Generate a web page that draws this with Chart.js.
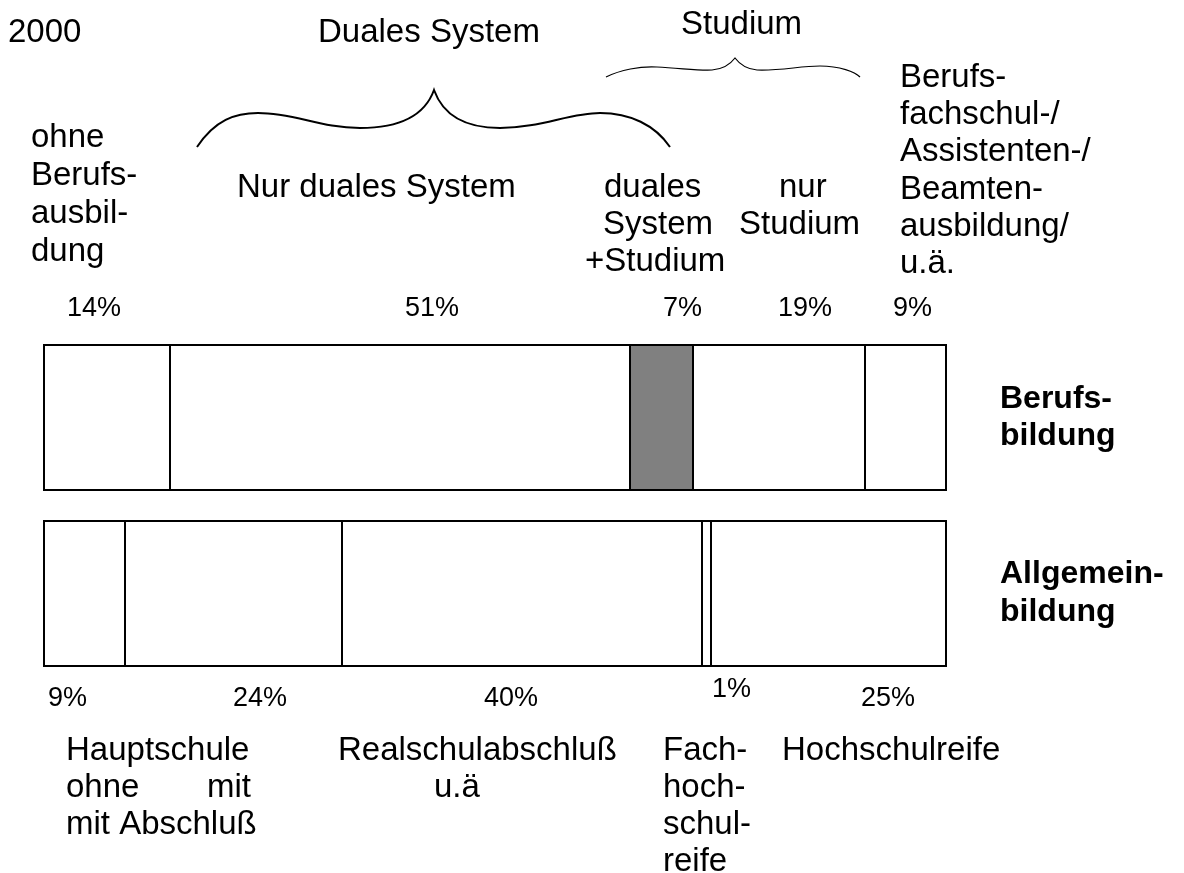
<!DOCTYPE html>
<html lang="de">
<head>
<meta charset="utf-8">
<title>Berufsbildung und Allgemeinbildung 2000</title>
<script src="https://cdn.jsdelivr.net/npm/chart.js"></script>
<style>
    html, body { margin: 0; padding: 0; background: #fff; }
    canvas { display: block; }
</style>
</head>
<body>
<canvas id="bildung-chart" width="1184" height="873"></canvas>
<script>
// Data
const year = '2000';
const rows = [['Berufs-', 'bildung'], ['Allgemein-', 'bildung']];
const berufsbildung = [14, 51, 7, 19, 9];
const allgemeinbildung = [9, 24, 40, 1, 25];
const berufsSegments = ['ohne Berufsausbildung', 'Nur duales System', 'duales System +Studium', 'nur Studium', 'Berufsfachschul-/Assistenten-/Beamtenausbildung/u.ä.'];
const allgemeinSegments = ['Hauptschule ohne Abschluß', 'Hauptschule mit Abschluß', 'Realschulabschluß u.ä', 'Fachhochschulreife', 'Hochschulreife'];

// Styles
const fills = [['#fff', '#fff'], ['#fff', '#fff'], ['#808080', '#fff'], ['#fff', '#fff'], ['#fff', '#fff']];
const font = '"Liberation Sans", Arial, sans-serif';
const topPctX = [67, 405, 663, 778, 893];
const bottomPctX = [48, 233, 484, 712, 861];

// Text blocks around the bars: [text, x, baseline, align]
const notes = [
    [year, 8, 42],
    ['Duales System', 318, 42],
    ['Studium', 681, 34],
    ['ohne', 31, 147], ['Berufs-', 31, 185], ['ausbil-', 31, 223], ['dung', 31, 261],
    ['Nur duales System', 237, 197],
    ['duales', 604, 197], ['nur', 779, 197],
    ['System', 603, 234], ['Studium', 739, 234],
    ['+Studium', 585, 271],
    ['Berufs-', 900, 87], ['fachschul-/', 900, 124], ['Assistenten-/', 900, 161],
    ['Beamten-', 900, 199], ['ausbildung/', 900, 236], ['u.ä.', 900, 273],
    ['Hauptschule', 66, 760], ['ohne', 66, 797], ['mit', 251, 797, 'right'], ['mit Abschluß', 66, 834],
    ['Realschulabschluß', 338, 760], ['u.ä', 434, 797],
    ['Fach-', 663, 760], ['hoch-', 663, 797], ['schul-', 663, 834], ['reife', 663, 871],
    ['Hochschulreife', 782, 760]
];

function brace(ctx, start, curves, width) {
    ctx.lineWidth = width;
    ctx.beginPath();
    ctx.moveTo(start[0], start[1]);
    curves.forEach(c => ctx.bezierCurveTo(c[0], c[1], c[2], c[3], c[4], c[5]));
    ctx.stroke();
}

const annotations = {
    id: 'annotations',
    afterDatasetsDraw(chart) {
        const ctx = chart.ctx;
        const xScale = chart.scales.x;
        const left = xScale.getPixelForValue(0);
        const right = xScale.getPixelForValue(100);

        ctx.save();
        ctx.strokeStyle = '#000';
        ctx.lineWidth = 2;

        // dividers at the start of every segment after the first
        chart.data.datasets.forEach((ds, i) => {
            if (i === 0) return;
            chart.getDatasetMeta(i).data.forEach(bar => {
                const { base, y, height } = bar.getProps(['base', 'y', 'height'], true);
                const x = Math.round(base);
                ctx.beginPath();
                ctx.moveTo(x, y - height / 2);
                ctx.lineTo(x, y + height / 2);
                ctx.stroke();
            });
        });

        // outline of each bar
        chart.getDatasetMeta(0).data.forEach(bar => {
            const { y, height } = bar.getProps(['y', 'height'], true);
            ctx.strokeRect(Math.round(left), Math.round(y - height / 2), Math.round(right - left), Math.round(height));
        });
        ctx.restore();
    },
    afterDraw(chart) {
        const ctx = chart.ctx;
        ctx.save();
        ctx.strokeStyle = '#000';
        ctx.fillStyle = '#000';

        // braces
        brace(ctx, [197, 147], [
            [215, 120, 235, 113, 258, 113],
            [295, 113, 320, 128, 360, 128],
            [400, 128, 425, 115, 434, 90],
            [443, 115, 465, 128, 500, 128],
            [540, 128, 570, 113, 600, 113],
            [630, 113, 655, 125, 670, 147]
        ], 2);
        brace(ctx, [606, 77], [
            [620, 70, 640, 66, 657, 67],
            [680, 68, 700, 71, 712, 70],
            [725, 69, 732, 62, 735, 58],
            [738, 62, 745, 69, 757, 70],
            [780, 71, 800, 66, 820, 66],
            [840, 66, 855, 72, 860, 77]
        ], 1.2);

        // percentages
        ctx.font = '27px ' + font;
        ctx.textAlign = 'left';
        ctx.textBaseline = 'alphabetic';
        berufsbildung.forEach((v, i) => ctx.fillText(v + '%', topPctX[i], 316));
        allgemeinbildung.forEach((v, i) => ctx.fillText(v + '%', bottomPctX[i], v < 5 ? 697 : 706));

        // category texts
        ctx.font = '33px ' + font;
        notes.forEach(n => {
            ctx.textAlign = n[3] || 'left';
            ctx.fillText(n[0], n[1], n[2]);
        });
        ctx.restore();
    }
};

const datasets = berufsbildung.map((v, i) => ({
    label: berufsSegments[i] + ' / ' + allgemeinSegments[i],
    data: [v, allgemeinbildung[i]],
    backgroundColor: fills[i],
    borderWidth: 0,
    barThickness: 145
}));

const bildungChart = new Chart(document.getElementById('bildung-chart'), {
    type: 'bar',
    data: {
        labels: rows,
        datasets: datasets
    },
    options: {
        indexAxis: 'y',
        responsive: false,
        animation: false,
        layout: {
            padding: { left: 44, right: 0, top: 330, bottom: 192 }
        },
        scales: {
            x: {
                stacked: true,
                min: 0,
                max: 100,
                display: false
            },
            y: {
                stacked: true,
                position: 'right',
                grid: { display: false, drawTicks: false, tickLength: 0 },
                border: { display: false },
                ticks: {
                    padding: 54,
                    color: '#000',
                    font: { family: font, size: 32, weight: 'bold', lineHeight: 1.18 }
                },
                afterFit(scale) {
                    scale.width = 238;
                }
            }
        },
        plugins: {
            legend: { display: false },
            tooltip: { enabled: false }
        }
    },
    plugins: [annotations]
});
</script>
</body>
</html>
